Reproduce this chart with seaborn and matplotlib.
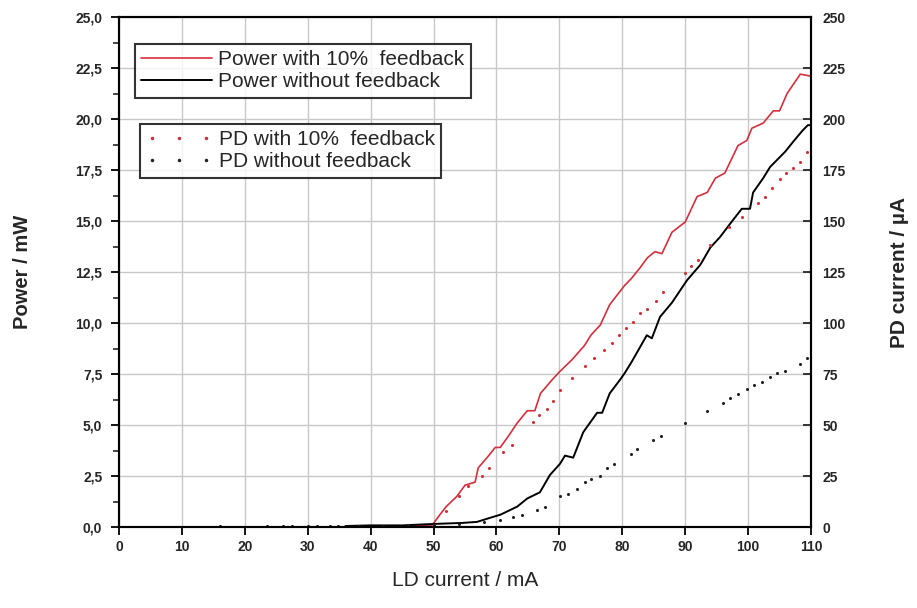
import matplotlib
matplotlib.use("Agg")
import matplotlib.pyplot as plt
import numpy as np
import pandas as pd
import seaborn as sns
from matplotlib.ticker import MultipleLocator, FuncFormatter
from matplotlib.lines import Line2D

# power with 10% feedback (mW)
i_pf = [36, 40, 45, 49.8, 51, 52, 53.7, 55, 56.6, 57.1, 58.5, 59.8, 60.6, 62, 63.3, 64.9,
        66.1, 67, 68.8, 70, 71, 72, 74, 75, 76.5, 78, 79, 80.4, 81.5, 82.8, 84, 85.2, 86.3,
        87.9, 90, 91.9, 93.5, 94.8, 96.3, 98.4, 99.8, 100.6, 102.4, 104, 105, 106.2, 108.3, 110]
p_pf = [0.05, 0.05, 0.05, 0.1, 0.6, 1.0, 1.5, 2.05, 2.2, 2.9, 3.4, 3.9, 3.9, 4.5, 5.1, 5.7,
        5.7, 6.55, 7.2, 7.6, 7.9, 8.2, 8.9, 9.4, 9.9, 10.9, 11.3, 11.85, 12.2, 12.7, 13.2, 13.5, 13.4,
        14.45, 14.95, 16.2, 16.4, 17.1, 17.35, 18.7, 18.95, 19.55, 19.8, 20.4, 20.4, 21.25, 22.2, 22.1]

# power without feedback (mW)
i_p0 = [36, 40, 45, 50, 54.5, 56.9, 59.5, 60.6, 63.3, 64.9, 66.9, 68.5, 70.1, 70.9, 72.2, 73.8,
        76, 76.8, 78, 79.6, 80.4, 81.5, 83.9, 84.7, 86, 87.9, 90.3, 92.4, 94, 95.5, 97.6, 99,
        100.3, 100.8, 102.4, 103.5, 105.9, 107.2, 108.7, 109.5, 110]
p_p0 = [0.05, 0.08, 0.08, 0.15, 0.2, 0.25, 0.5, 0.6, 1.0, 1.4, 1.7, 2.55, 3.1, 3.5, 3.4, 4.65,
        5.6, 5.6, 6.55, 7.2, 7.55, 8.1, 9.4, 9.25, 10.3, 11.0, 12.1, 12.85, 13.7, 14.2, 15.05, 15.6,
        15.6, 16.4, 17.1, 17.65, 18.4, 18.9, 19.45, 19.7, 19.7]

# PD current with 10% feedback (uA)
i_df = [50, 52, 54, 55.5, 57.7, 58.8, 61, 62.5, 65.8, 66.8, 68, 69, 70.1, 72, 74, 75.5, 77.1,
        78.4, 79.5, 80.6, 81.7, 82.8, 84, 85.4, 86.5, 90, 91, 92, 94, 97, 99, 101.6, 102.7,
        103.8, 105, 106, 107.2, 108.3, 109.4]
d_df = [1, 8, 15, 20, 25, 29, 37, 40, 51.5, 55, 58, 62, 67, 73, 79, 83, 87,
        90, 94, 97.5, 100.5, 105, 107, 111, 115, 124.5, 128, 131, 138, 147, 152, 159, 162,
        166, 170.5, 173.5, 176, 179, 184]

# PD current without feedback (uA)
i_d0 = [16, 23.5, 26, 27.5, 30, 31.5, 33.5, 34.8, 38, 42, 46, 50, 54, 58, 60.5, 62.7, 64,
        66.5, 67.7, 70.1, 71.4, 72.8, 74, 75, 76.5, 77.6, 78.7, 81.4, 82.4, 84.9, 86.2, 90,
        93.5, 96, 97.2, 98.4, 99.8, 101, 102.2, 103.5, 104.6, 105.9, 108.3, 109.4]
d_d0 = [0.5, 0.5, 0.5, 0.5, 0.5, 0.5, 0.5, 0.5, 0.5, 0.5, 0.8, 1, 1.5, 2.5, 3.5, 5, 6,
        8.3, 10, 15, 16, 18.6, 22, 23.5, 25, 29, 31, 36, 38, 42.6, 44.6, 51,
        57, 61, 63, 65, 67.6, 69.6, 71, 73.5, 75.5, 76.5, 80, 83]

RED = "#d2303c"

sns.set_style("white")
plt.rcParams["font.family"] = ["Liberation Sans", "DejaVu Sans"]

fig = plt.figure(figsize=(9.17, 6.08), dpi=100)
ax = fig.add_axes([0.1298, 0.1332, 0.7546, 0.8388])
ax2 = ax.twinx()

sns.lineplot(x=i_pf, y=p_pf, ax=ax, color=RED, lw=1.2, estimator=None, sort=False)
sns.lineplot(x=i_p0, y=p_p0, ax=ax, color="black", lw=1.4, estimator=None, sort=False)
sns.scatterplot(x=i_df, y=d_df, ax=ax2, color=RED, s=5, linewidth=0)
sns.scatterplot(x=i_d0, y=d_d0, ax=ax2, color="#222222", s=5, linewidth=0)

ax.set_xlim(0, 110)
ax.set_ylim(0, 25)
ax2.set_ylim(0, 250)

ax.xaxis.set_major_locator(MultipleLocator(10))
ax.yaxis.set_major_locator(MultipleLocator(2.5))
ax.yaxis.set_minor_locator(MultipleLocator(1.25))
ax2.yaxis.set_major_locator(MultipleLocator(25))
ax.yaxis.set_major_formatter(FuncFormatter(lambda v, p: f"{v:.1f}".replace(".", ",")))

ax.grid(True, which="major", color="#c8c8c8", lw=1.0)
ax.set_axisbelow(True)
for a in (ax, ax2):
    for s in a.spines.values():
        s.set_color("black")
        s.set_linewidth(1.5)

ax.tick_params(axis="both", which="major", direction="out", length=6, width=1.3,
               labelsize=10, color="black")
ax.tick_params(axis="y", which="minor", direction="out", length=4, width=1.2, left=True)
ax.tick_params(axis="x", bottom=True)
ax.tick_params(axis="y", left=True, pad=6)
ax2.tick_params(axis="y", direction="in", length=6, width=1.3, labelsize=10, right=True, pad=8)
for lab in ax.get_xticklabels() + ax.get_yticklabels() + ax2.get_yticklabels():
    lab.set_fontweight("bold")

ax.set_xlabel("LD current / mA", fontsize=15, labelpad=12)
ax.set_ylabel("Power / mW", fontsize=14.5, fontweight="bold", labelpad=31)
ax2.set_ylabel("PD current / µA", fontsize=15, fontweight="bold", labelpad=32)

h1 = [Line2D([], [], color=RED, lw=1.2), Line2D([], [], color="black", lw=1.4)]
leg1 = ax.legend(h1, ["Power with 10%  feedback", "Power without feedback"],
                 loc="upper left", bbox_to_anchor=(0.023, 0.947), borderaxespad=0,
                 frameon=True, fancybox=False,
                 edgecolor="black", fontsize=15, handlelength=3.4, handletextpad=0.3,
                 borderpad=0.3, labelspacing=0.15)
leg1.get_frame().set_linewidth(1.5)
ax.add_artist(leg1)

h2 = [Line2D([], [], color=RED, ls="none", marker="o", ms=1.5),
      Line2D([], [], color="#222222", ls="none", marker="o", ms=1.5)]
leg2 = ax.legend(h2, ["PD with 10%  feedback", "PD without feedback"],
                 loc="upper left", bbox_to_anchor=(0.030, 0.79), borderaxespad=0,
                 frameon=True, fancybox=False,
                 edgecolor="black", fontsize=15, numpoints=3, handlelength=3.2,
                 handletextpad=0.3, borderpad=0.3, labelspacing=0.15)
leg2.get_frame().set_linewidth(1.5)

fig.savefig("out.png", dpi=100)
